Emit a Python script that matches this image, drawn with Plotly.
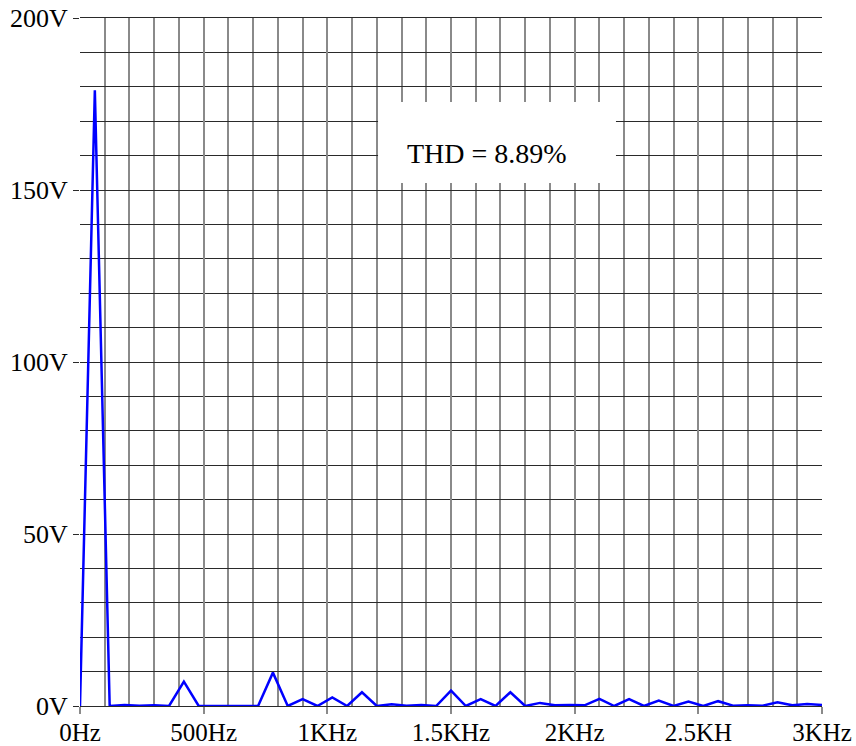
import plotly.graph_objects as go

freq_hz = [0, 60, 120, 180, 240, 300, 360, 420, 480, 540, 600, 660, 720, 780, 840, 900,
           960, 1020, 1080, 1140, 1200, 1260, 1320, 1380, 1440, 1500, 1560, 1620, 1680,
           1740, 1800, 1860, 1920, 1980, 2040, 2100, 2160, 2220, 2280, 2340, 2400, 2460,
           2520, 2580, 2640, 2700, 2760, 2820, 2880, 2940, 3000]
amp_v = [0, 179, 0, 0.3, 0.1, 0.2, 0, 7.1, 0, 0, 0, 0, 0, 9.7, 0, 2.0,
         0, 2.5, 0, 4.0, 0, 0.5, 0.1, 0.3, 0, 4.5, 0, 2.0, 0,
         4.0, 0, 0.9, 0.2, 0.3, 0.2, 2.1, 0, 2.0, 0, 1.6, 0, 1.3,
         0, 1.4, 0.1, 0.2, 0.1, 1.1, 0.2, 0.6, 0.3]

x_tick_vals = [0, 500, 1000, 1500, 2000, 2500, 3000]
x_tick_text = ["0Hz", "500Hz", "1KHz", "1.5KHz", "2KHz", "2.5KH", "3KHz"]
y_tick_vals = [0, 50, 100, 150, 200]
y_tick_text = ["0V", "50V", "100V", "150V", "200V"]
thd_text = "THD = 8.89%"

FONT = "Liberation Serif, Times New Roman, serif"
VGRID = "#8a8a8a"
HGRID = "#2a2a2a"

fig = go.Figure()
fig.add_trace(go.Scatter(x=freq_hz, y=amp_v, mode="lines",
                         line=dict(color="#0000ff", width=2.5), hoverinfo="skip"))

fig.add_shape(type="rect", xref="x", yref="y", x0=1205, x1=2167, y0=152, y1=175.6,
              fillcolor="white", line=dict(width=0), layer="above")
fig.add_annotation(x=1646, y=160.7, xref="x", yref="y", text=thd_text, showarrow=False,
                   font=dict(family=FONT, size=28, color="black"))

fig.update_layout(
    width=856, height=746,
    margin=dict(l=80, r=34, t=18, b=40),
    paper_bgcolor="white", plot_bgcolor="white",
    showlegend=False,
    font=dict(family=FONT, size=26, color="black"),
    xaxis=dict(range=[0, 3000], tickvals=x_tick_vals, ticktext=x_tick_text,
               automargin=False,
               showgrid=True, gridcolor=VGRID, gridwidth=1.5,
               ticks="outside", ticklen=7, tickcolor=VGRID, tickwidth=1.5,
               minor=dict(dtick=100, showgrid=True, gridcolor=VGRID, gridwidth=1.5, ticks=""),
               zeroline=False, showline=True, mirror=True, linecolor=HGRID, linewidth=1.2,
               ticklabelstandoff=-3,
               tickfont=dict(family=FONT, size=25, color="black")),
    yaxis=dict(range=[0, 200], tickvals=y_tick_vals, ticktext=y_tick_text,
               automargin=False,
               showgrid=True, gridcolor=HGRID, gridwidth=1.2,
               ticks="outside", ticklen=6, tickcolor=HGRID, tickwidth=1.2,
               minor=dict(dtick=10, showgrid=True, gridcolor=HGRID, gridwidth=1.2, ticks=""),
               zeroline=False, showline=False, ticklabelstandoff=0,
               tickfont=dict(family=FONT, size=26, color="black")),
)

fig.write_html("out.html", config={"displayModeBar": False},
               post_script="document.body.style.margin='0px';")
